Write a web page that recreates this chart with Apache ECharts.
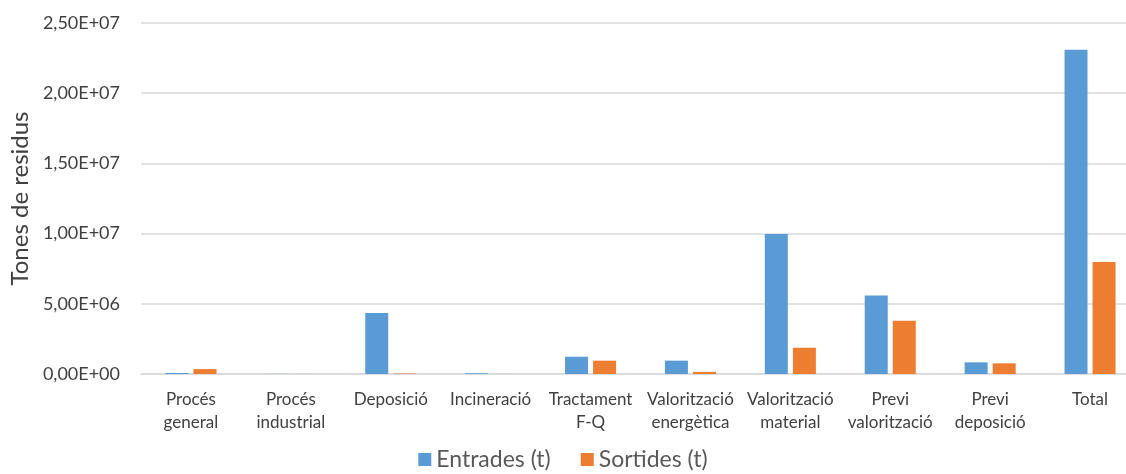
<!DOCTYPE html>
<html>
<head>
<meta charset="utf-8">
<script src="https://cdn.jsdelivr.net/npm/echarts@6/dist/echarts.min.js"></script>
<style>html,body{margin:0;padding:0;background:#fff}#c{width:1126px;height:474px}</style>
</head>
<body>
<div id="c"></div>
<script>
var categories = ["Procés\ngeneral", "Procés\nindustrial", "Deposició", "Incineració", "Tractament\nF-Q", "Valorització\nenergètica", "Valorització\nmaterial", "Previ\nvalorització", "Previ\ndeposició", "Total"];
var entrades = [70000, 10000, 4340000, 50000, 1230000, 950000, 9970000, 5600000, 830000, 23100000];
var sortides = [350000, 5000, 30000, 5000, 950000, 150000, 1870000, 3800000, 760000, 7980000];
var seriesNames = ["Entrades (t)", "Sortides (t)"];

function fmt(v) {
  if (v === 0) return "0,00E+00";
  var e = Math.floor(Math.log10(Math.abs(v)));
  var m = v / Math.pow(10, e);
  var s = m.toFixed(2).replace('.', ',');
  var es = (e < 10 ? '0' : '') + e;
  return s + 'E+' + es;
}

var chart = echarts.init(document.getElementById('c'));
var font = 'Lato, "Open Sans", sans-serif';
chart.setOption({
  animation: false,
  textStyle: {fontFamily: font},
  grid: {left: 141, top: 23, width: 999, height: 351, containLabel: false, outerBoundsMode: 'none'},
  legend: {
    data: seriesNames, bottom: -2, left: 'center',
    itemWidth: 13, itemHeight: 13, itemGap: 30,
    icon: 'rect',
    textStyle: {fontSize: 23, color: '#595959', fontFamily: font}
  },
  xAxis: {
    type: 'category', data: categories,
    axisLine: {lineStyle: {color: '#d9d9d9', width: 1.5}},
    axisTick: {show: false},
    axisLabel: {interval: 0, fontSize: 17, color: '#404040', lineHeight: 23, margin: 14, fontFamily: font}
  },
  yAxis: {
    type: 'value', min: 0, max: 25000000, interval: 5000000,
    name: 'Tones de residus', nameLocation: 'middle', nameGap: 108,
    nameTextStyle: {fontSize: 24, color: '#404040', fontFamily: font},
    axisLine: {show: false}, axisTick: {show: false},
    splitLine: {lineStyle: {color: '#d9d9d9', width: 1.5}},
    axisLabel: {formatter: fmt, fontSize: 18, color: '#404040', margin: 21, fontFamily: font}
  },
  series: [
    {name: seriesNames[0], type: 'bar', data: entrades, barWidth: 23, barGap: '22%', itemStyle: {color: '#5B9BD5'}},
    {name: seriesNames[1], type: 'bar', data: sortides, barWidth: 23, barGap: '22%', itemStyle: {color: '#ED7D31'}}
  ]
});
</script>
</body>
</html>
